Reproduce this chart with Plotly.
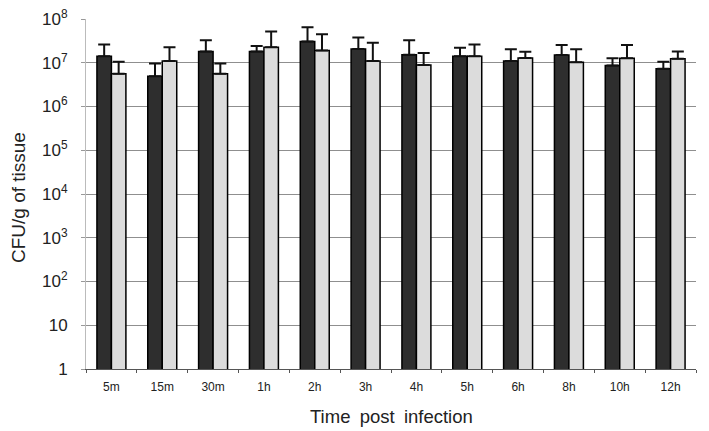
import plotly.graph_objects as go

categories = ["5m", "15m", "30m", "1h", "2h", "3h", "4h", "5h", "6h", "8h", "10h", "12h"]
dark_vals = [1.4e7, 4.9e6, 1.8e7, 1.8e7, 3.05e7, 2.07e7, 1.53e7, 1.4e7, 1.1e7, 1.5e7, 8.6e6, 7.3e6]
dark_err_top = [2.6e7, 9.6e6, 3.25e7, 2.4e7, 6.5e7, 3.77e7, 3.25e7, 2.2e7, 2.04e7, 2.55e7, 1.26e7, 1.06e7]
light_vals = [5.6e6, 1.1e7, 5.6e6, 2.25e7, 1.9e7, 1.1e7, 8.9e6, 1.4e7, 1.29e7, 1.02e7, 1.26e7, 1.24e7]
light_err_top = [1.05e7, 2.25e7, 9.6e6, 5.2e7, 4.5e7, 2.85e7, 1.68e7, 2.6e7, 1.78e7, 2.04e7, 2.55e7, 1.8e7]
ytick_vals = [1, 10, 1e2, 1e3, 1e4, 1e5, 1e6, 1e7, 1e8]
ytick_text = ["1", "10", "10<sup>2</sup>", "10<sup>3</sup>", "10<sup>4</sup>", "10<sup>5</sup>",
              "10<sup>6</sup>", "10<sup>7</sup>", "10<sup>8</sup>"]
y_title = "CFU/g of tissue"
x_title = "Time\u2002post\u2002infection"

dark_err = [t - v for t, v in zip(dark_err_top, dark_vals)]
light_err = [t - v for t, v in zip(light_err_top, light_vals)]

fig = go.Figure()
fig.add_trace(go.Bar(
    x=categories, y=dark_vals, name="dark",
    marker=dict(color="#2e2e2e", line=dict(color="#000000", width=1.5)),
    error_y=dict(type="data", array=dark_err, arrayminus=[0]*len(dark_err), symmetric=False,
                 color="#111111", thickness=2, width=6),
))
fig.add_trace(go.Bar(
    x=categories, y=light_vals, name="light",
    marker=dict(color="#dcdcdc", line=dict(color="#000000", width=1.5)),
    error_y=dict(type="data", array=light_err, arrayminus=[0]*len(light_err), symmetric=False,
                 color="#111111", thickness=2, width=6),
))

fig.update_layout(
    width=709, height=431,
    margin=dict(l=86, r=13, t=19, b=62, autoexpand=False),
    paper_bgcolor="white", plot_bgcolor="white",
    barmode="group", bargap=0.43, bargroupgap=0.0,
    showlegend=False,
    font=dict(family="Liberation Sans, Arial, sans-serif", color="#111111"),
    annotations=[
        dict(text=y_title, xref="paper", yref="paper", x=0, y=0.5, xshift=-68, yshift=-4,
             xanchor="center", yanchor="middle", textangle=-90, showarrow=False,
             font=dict(size=19, color="#222222")),
        dict(text=x_title, xref="paper", yref="paper", x=0.5, y=0, yshift=-47,
             xanchor="center", yanchor="middle", showarrow=False,
             font=dict(size=18.5, color="#222222")),
    ],
)
fig.update_yaxes(
    type="log", range=[0, 8], automargin=False,
    tickvals=ytick_vals, ticktext=ytick_text,
    tickfont=dict(size=17, color="#222222"),
    showgrid=True, gridcolor="#8f8f8f", gridwidth=1,
    showline=True, linecolor="#bbbbbb", linewidth=1,
    ticks="outside", ticklen=4, tickcolor="#999999",
    ticklabelstandoff=10,
    zeroline=False,
)
fig.update_xaxes(
    automargin=False,
    tickfont=dict(size=12, color="#222222"),
    showline=True, linecolor="#555555", linewidth=1,
    ticks="outside", tickson="boundaries", ticklen=3, tickcolor="#555555",
    ticklabelstandoff=7,
)

fig.write_html("out.html", config={"displayModeBar": False},
               post_script="document.body.style.margin='0';document.body.style.overflow='hidden';")
